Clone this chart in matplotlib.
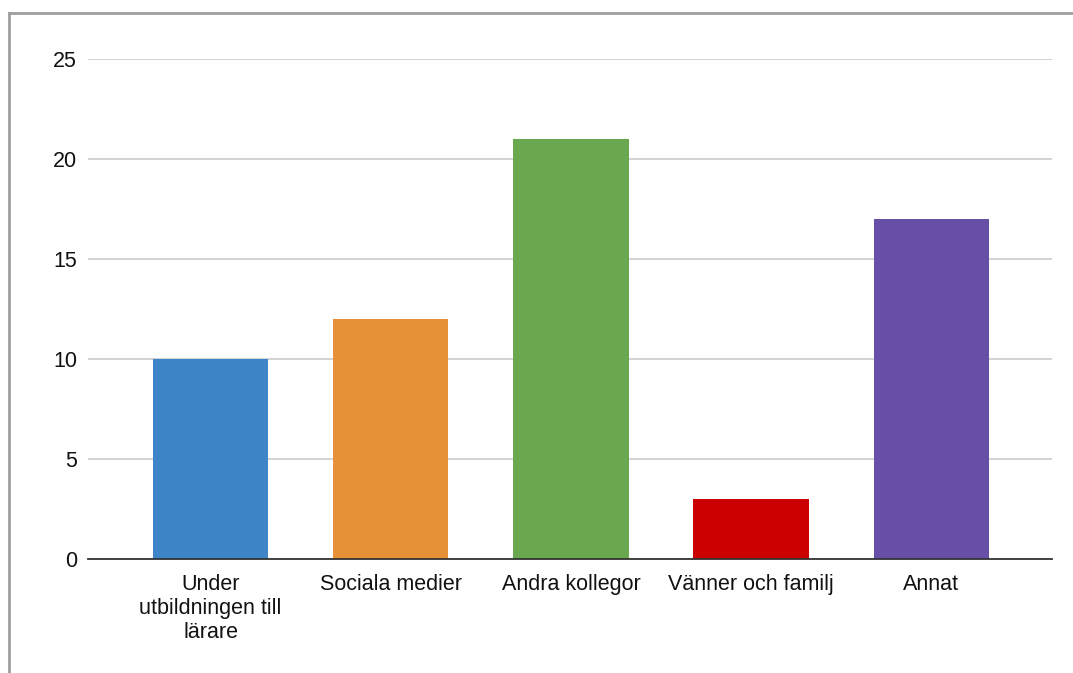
import matplotlib.pyplot as plt
from matplotlib.lines import Line2D

plt.rcParams['font.family'] = ['Liberation Sans', 'DejaVu Sans']

# --- DATA ---
categories = ["Under\nutbildningen till\nlärare", "Sociala medier", "Andra kollegor",
              "Vänner och familj", "Annat"]
counts = [10, 12, 21, 3, 17]
colors = ['#3d85c6', '#e69138', '#6aa84f', '#cc0000', '#674ea7']
yticks = [0, 5, 10, 15, 20, 25]

W, H = 1073, 673
fig = plt.figure(figsize=(W / 100, H / 100), dpi=100)
ax = fig.add_axes([88 / W, 1 - 559 / H, (1052 - 88) / W, 500 / H])

x = range(len(categories))
ax.bar(x, counts, width=0.64, color=colors, zorder=3)

ax.set_xlim(-0.68, len(categories) - 1 + 0.67)
ax.set_ylim(0, 25)
ax.set_yticks(yticks)
ax.set_xticks(list(x))
ax.set_xticklabels(categories, fontsize=15.5, color='#111111', linespacing=1.17)
ax.tick_params(axis='y', labelsize=15.5, labelcolor='#111111', length=0, pad=8)
ax.tick_params(axis='x', length=0, pad=11)

ax.grid(axis='y', color='#cccccc', linewidth=1.2, zorder=0)
for side in ['top', 'right', 'left']:
    ax.spines[side].set_visible(False)
ax.spines['bottom'].set_color('#333333')
ax.spines['bottom'].set_linewidth(1.3)
ax.spines['bottom'].set_zorder(4)

# outer frame (left and top edges)
fx, fy = 8.5 / W, 1 - 12.5 / H
fig.add_artist(Line2D([fx, fx], [0, fy], transform=fig.transFigure, color='#9e9e9e', linewidth=2))
fig.add_artist(Line2D([fx, 1], [fy, fy], transform=fig.transFigure, color='#9e9e9e', linewidth=2))

fig.savefig('out.png', dpi=100, facecolor='white')
